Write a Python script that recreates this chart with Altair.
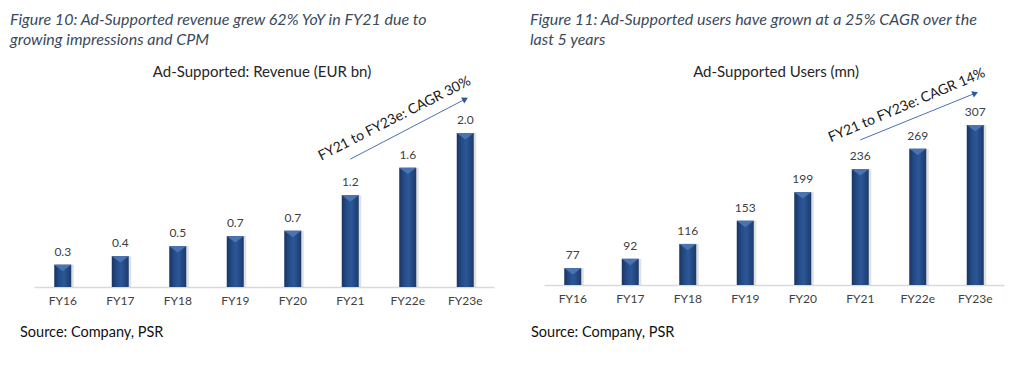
import altair as alt
import pandas as pd

categories = ["FY16", "FY17", "FY18", "FY19", "FY20", "FY21", "FY22e", "FY23e"]
revenue_values = [0.29, 0.40, 0.53, 0.66, 0.73, 1.19, 1.55, 2.0]
revenue_labels = ["0.3", "0.4", "0.5", "0.7", "0.7", "1.2", "1.6", "2.0"]
users_values = [77, 92, 116, 153, 199, 236, 269, 307]
users_labels = ["77", "92", "116", "153", "199", "236", "269", "307"]

left_caption = ["Figure 10: Ad-Supported revenue grew 62% YoY in FY21 due to",
                "growing impressions and CPM"]
right_caption = ["Figure 11: Ad-Supported users have grown at a 25% CAGR over the",
                 "last 5 years"]
left_title = "Ad-Supported: Revenue (EUR bn)"
right_title = "Ad-Supported Users (mn)"
source_text = "Source: Company, PSR"
left_note = "FY21 to FY23e: CAGR 30%"
right_note = "FY21 to FY23e: CAGR 14%"
# arrow endpoints in data units (FY21 -> FY23e)
left_arrow = [1.66, 2.44]
right_arrow = [283, 358]

FONT = "Lato"
H = 349


def panel(values, labels, base, domain, x_range, width, title, title_x,
          title_size, caption, cap_x, src_x, note, note_y, note_angle,
          note_dx, arrow_y, head_angle, axis_offset):
    df = pd.DataFrame({"cat": categories, "v": values, "lab": labels,
                       "base": [base] * len(categories)})
    xs = alt.X("cat:N", sort=categories,
               scale=alt.Scale(range=x_range, paddingInner=0, paddingOuter=0),
               axis=alt.Axis(title=None, labelAngle=0, ticks=False,
                             labelFont=FONT, labelFontSize=12,
                             labelColor="#404040", labelPadding=8,
                             domainColor="#d9d9d9", domainWidth=1.5,
                             offset=axis_offset, grid=False))
    ys = alt.Y("v:Q", scale=alt.Scale(domain=domain, nice=False, zero=False),
               axis=None)
    base_ch = alt.Chart(df)
    shadow = base_ch.mark_bar(size=17, color="#c9c9c9", opacity=0.55,
                              xOffset=2.5).encode(x=xs, y=ys, y2="base:Q")
    bars = base_ch.mark_bar(
        size=17,
        color=alt.Gradient(gradient="linear",
                           stops=[alt.GradientStop(color="#183463", offset=0),
                                  alt.GradientStop(color="#254c89", offset=0.3),
                                  alt.GradientStop(color="#2c5797", offset=0.55),
                                  alt.GradientStop(color="#1b3a6c", offset=1)],
                           x1=0, x2=1, y1=0, y2=0)
    ).encode(x=xs, y=ys, y2="base:Q")
    bevel = base_ch.mark_point(shape="M -1 0 L 1 0 L 0 0.75 Z", filled=True,
                               size=289, color="#4a74b0", opacity=1,
                               strokeWidth=0).encode(x=xs, y=ys)
    text = base_ch.mark_text(font=FONT, fontSize=12, color="#404040",
                             dy=-13, baseline="middle").encode(
        x=xs, y=ys, text="lab:N")

    adf = pd.DataFrame({"cat": ["FY21", "FY23e"], "v": arrow_y})
    arrow = alt.Chart(adf).mark_line(color="#4a72b0", strokeWidth=1).encode(
        x=xs, y=ys)
    head = alt.Chart(adf.iloc[[1]]).mark_point(
        shape="triangle-up", filled=True, size=45, color="#2c5a98",
        angle=head_angle, opacity=1).encode(x=xs, y=ys)
    ndf = pd.DataFrame({"cat": ["FY22e"], "v": [note_y], "t": [note]})
    note_mark = alt.Chart(ndf).mark_text(font=FONT, fontSize=14,
                                         color="#1a1a1a", angle=note_angle,
                                         dx=note_dx, dy=-9,
                                         baseline="middle").encode(
        x=xs, y=ys, text="t:N")

    tdf = pd.DataFrame({"t": [title]})
    title_mark = alt.Chart(tdf).mark_text(font=FONT, fontSize=title_size,
                                          color="#262626",
                                          baseline="middle").encode(
        x=alt.value(title_x), y=alt.value(64), text="t:N")
    cdf = pd.DataFrame({"t": caption, "yy": [3.5, 24]})
    cap = alt.Chart(cdf).mark_text(font=FONT, fontSize=16, fontStyle="italic",
                                   color="#3b4a5c", align="left",
                                   baseline="top").encode(
        x=alt.value(cap_x), y=alt.Y("yy:Q", scale=None), text="t:N")
    sdf = pd.DataFrame({"t": [source_text]})
    src = alt.Chart(sdf).mark_text(font=FONT, fontSize=14.5, color="#111111",
                                   align="left", baseline="middle").encode(
        x=alt.value(src_x), y=alt.value(325), text="t:N")

    return alt.layer(shadow, bars, bevel, text, arrow, head, note_mark,
                     title_mark, cap, src).properties(width=width, height=H)


left = panel(revenue_values, revenue_labels, 0,
             [-70 / 77.0, (H - 70) / 77.0], [26, 486], 512,
             left_title, 254, 15, left_caption, 2, 12,
             left_note, 2.14, 333, -10, left_arrow, 62, -70)
right = panel(users_values, users_labels, 50,
              [50 - 72 / 0.6226, 50 + (H - 72) / 0.6226], [24, 484], 508,
              right_title, 256, 15, right_caption, 10, 11,
              right_note, 330, 337, -8, right_arrow, 68, -72)

chart = alt.hconcat(left, right, spacing=0).properties(padding=0).configure_view(
    stroke=None)
chart.save("out.html", embed_options={"renderer": "svg", "actions": False})
